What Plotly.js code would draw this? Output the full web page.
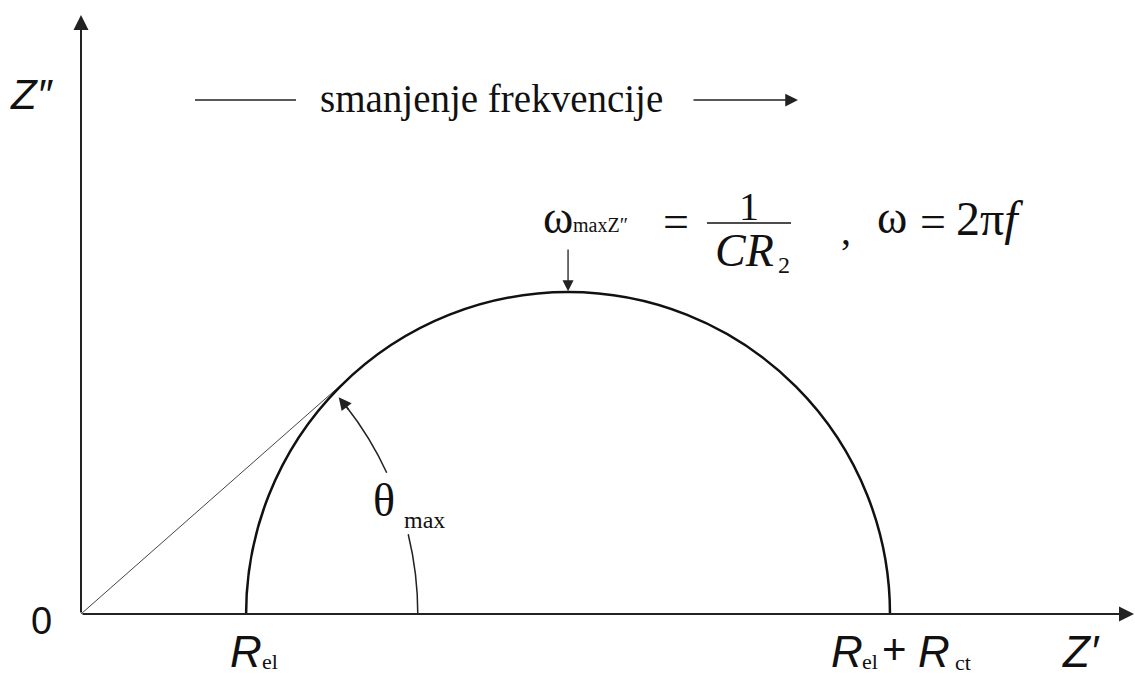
<!DOCTYPE html>
<html>
<head>
<meta charset="utf-8">
<script src="https://cdn.plot.ly/plotly-3.0.1.min.js"></script>
<style>html,body{margin:0;padding:0;background:#fff;}#chart{width:1135px;height:677px;}</style>
</head>
<body>
<div id="chart"></div>
<script>
// ---- data (arbitrary impedance units) ----
const interceptLabels = ['R_el', 'R_el + R_ct'];
const interceptValues = [1.0, 4.9];          // Z' where the semicircle meets the real axis
const axisNames = ['Z′', 'Z″'];
const topNote = ['smanjenje frekvencije'];
const thetaArcRadius = [2.04];                // radius of the θmax angle marker
const thetaArcGaps = [13.7, 24.8];            // degrees: gap in marker for the θmax label

// ---- derived geometry ----
const Rel = interceptValues[0];
const RelRct = interceptValues[1];
const centerX = (Rel + RelRct) / 2;
const radius = (RelRct - Rel) / 2;
const tanLen = Math.sqrt(centerX * centerX - radius * radius);
const phi = Math.asin(radius / centerX);
const tangentX = [0, tanLen * Math.cos(phi)];
const tangentY = [0, tanLen * Math.sin(phi)];
const phiDeg = phi * 180 / Math.PI;

// pixel <-> data / paper helpers for layout decorations
const PX = 165.1, X0 = 81, Y0 = 614, W = 1054, H = 614;
const dx = p => (p - X0) / PX;
const dy = p => (Y0 - p) / PX;
const pxp = p => (p - X0) / W;
const pyp = p => (Y0 - p) / H;

const serif = 'Liberation Serif, Times New Roman, serif';
const sans = 'Liberation Sans, Arial, sans-serif';
const ink = '#111';

function arcPath(r, a1, a2) {
  const t = Math.PI / 180;
  const am = (a1 + a2) / 2 * t, h = (a2 - a1) / 2 * t;
  const rc = r / Math.cos(h);
  return 'M ' + (r * Math.cos(a1 * t)) + ',' + (r * Math.sin(a1 * t)) +
         ' Q ' + (rc * Math.cos(am)) + ',' + (rc * Math.sin(am)) +
         ' ' + (r * Math.cos(a2 * t)) + ',' + (r * Math.sin(a2 * t));
}

function txt(x, y, text, font, size) {
  return {
    x: pxp(x), y: pyp(y), xref: 'paper', yref: 'paper', text: text, showarrow: false,
    xanchor: 'center', yanchor: 'middle',
    font: {family: font, size: size, color: ink}
  };
}
function arrow(x1, y1, x2, y2, w, size) {
  return {
    x: x2, y: y2, ax: x1, ay: y1, xref: 'x', yref: 'y', axref: 'x', ayref: 'y',
    text: '', showarrow: true, arrowhead: 2, arrowsize: size, arrowwidth: w,
    arrowcolor: '#222', standoff: 0, startstandoff: 0
  };
}

const rA = thetaArcRadius[0];
const tRad = Math.PI / 180;
const arrowTipDeg = phiDeg - 1.3;

const traces = [{
  x: tangentX, y: tangentY, mode: 'lines', type: 'scatter',
  line: {color: '#444', width: 1}, hoverinfo: 'skip', showlegend: false
}];

const layout = {
  width: 1135, height: 677,
  margin: {l: X0, r: 0, t: 0, b: 677 - Y0, pad: 0},
  paper_bgcolor: '#fff', plot_bgcolor: '#fff',
  showlegend: false,
  xaxis: {range: [0, W / PX], visible: false, fixedrange: true},
  yaxis: {range: [0, H / PX], visible: false, fixedrange: true},
  shapes: [
    {type: 'circle', xref: 'x', yref: 'y', x0: Rel, x1: RelRct, y0: -radius, y1: radius,
     line: {color: ink, width: 2.5}},
    {type: 'path', xref: 'x', yref: 'y', path: arcPath(rA, 0, thetaArcGaps[0]),
     line: {color: '#222', width: 1.5}},
    {type: 'path', xref: 'x', yref: 'y', path: arcPath(rA, thetaArcGaps[1], arrowTipDeg - 2),
     line: {color: '#222', width: 1.5}},
    {type: 'line', xref: 'x', yref: 'y', x0: dx(195), x1: dx(296), y0: dy(100), y1: dy(100),
     line: {color: '#222', width: 1.5}},
    {type: 'line', xref: 'x', yref: 'y', x0: dx(707), x1: dx(791), y0: dy(223), y1: dy(223),
     line: {color: ink, width: 1.5}}
  ],
  annotations: [
    // axes
    arrow(0, 0, dx(1134), 0, 2, 1.5),
    arrow(0, 0, 0, dy(15), 2, 1.5),
    // frequency direction arrow
    arrow(dx(692), dy(100), dx(798), dy(100), 1.5, 1.7),
    // arrow to top of semicircle
    arrow(centerX, dy(248), centerX, radius + 0.005, 1.3, 1.7),
    // theta arrow
    arrow(rA * Math.cos((arrowTipDeg - 3) * tRad), rA * Math.sin((arrowTipDeg - 3) * tRad),
          rA * Math.cos(arrowTipDeg * tRad), rA * Math.sin(arrowTipDeg * tRad), 1.5, 1.7),
    // axis labels
    txt(32, 95, '<i>' + axisNames[1] + '</i>', sans, 42),
    txt(1081, 651, '<i>' + axisNames[0] + '</i>', sans, 44),
    txt(41, 621, '0', sans, 38),
    // intercept labels
    txt(246, 651, '<i>R</i>', sans, 44),
    txt(270, 661, 'el', serif, 22),
    txt(847, 651, '<i>R</i>', sans, 44),
    txt(870, 661, 'el', serif, 22),
    txt(894, 649, '+', sans, 42),
    txt(934, 651, '<i>R</i>', sans, 44),
    txt(963, 662, 'ct', serif, 22),
    // top note
    txt(491, 99, topNote[0], serif, 39),
    // equation
    txt(558, 217, 'ω', serif, 46),
    txt(600, 225, 'maxZ″', serif, 20),
    txt(676, 221, '=', serif, 46),
    txt(749, 206, '1', serif, 40),
    txt(744, 251, '<i>CR</i>', serif, 46),
    txt(784, 265, '2', serif, 24),
    txt(846, 231, ',', serif, 40),
    txt(892, 217, 'ω', serif, 46),
    txt(933, 221, '=', serif, 46),
    txt(989, 218, '2π<i>f</i>', serif, 48),
    // theta label
    txt(384, 500, 'θ', serif, 46),
    txt(424, 520, 'max', serif, 24)
  ]
};

Plotly.newPlot('chart', traces, layout, {displayModeBar: false, staticPlot: true});
</script>
</body>
</html>
